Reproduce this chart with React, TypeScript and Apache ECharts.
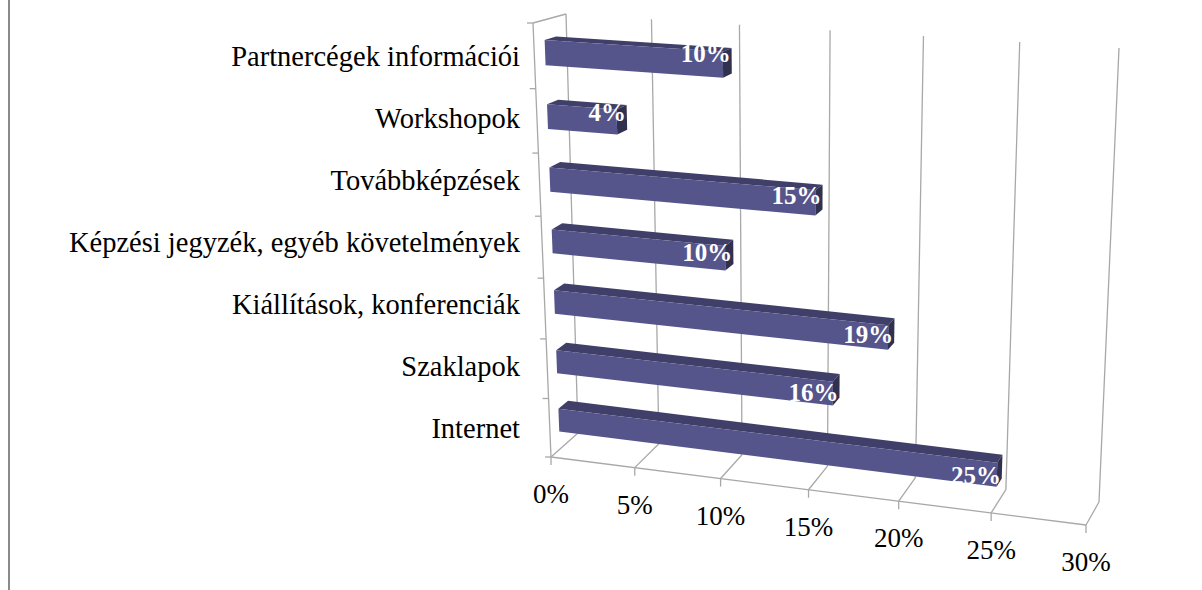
import React, { useEffect, useRef } from "react";
import * as echarts from "echarts";

// ---- data ----
const categories = [
  "Internet",
  "Szaklapok",
  "Kiállítások, konferenciák",
  "Képzési jegyzék, egyéb követelmények",
  "Továbbképzések",
  "Workshopok",
  "Partnercégek információi",
];
const values = [25, 16, 19, 10, 15, 4, 10];
const valueTicks = [0, 5, 10, 15, 20, 25, 30];
const valueTickLabels = ["0%", "5%", "10%", "15%", "20%", "25%", "30%"];
const valueMax = 30;

// ---- 3D look (layout only): corners of the front and back planes ----
type Pt = [number, number];
const FRONT: Pt[] = [[551, 457], [1086, 525], [1107, 60], [533, 23]];
const BACK: Pt[] = [[578, 433], [1099, 502], [1119, 48], [566, 14]];
const BAR_HALF = 0.195;
const Z_FRONT = 0.33;
const Z_BACK = 0.68;
const LABEL_LIFT = 2.1; // px per category row (label placement)
const GRID = "#a8a8a8";
const SERIF = "'Liberation Serif', 'DejaVu Serif', serif";

function makeH(q: Pt[]) {
  const [x0, y0] = q[0], [x1, y1] = q[1], [x2, y2] = q[2], [x3, y3] = q[3];
  const dx1 = x1 - x2, dx2 = x3 - x2, dx3 = x0 - x1 + x2 - x3;
  const dy1 = y1 - y2, dy2 = y3 - y2, dy3 = y0 - y1 + y2 - y3;
  const den = dx1 * dy2 - dx2 * dy1;
  const g = (dx3 * dy2 - dx2 * dy3) / den;
  const h = (dx1 * dy3 - dx3 * dy1) / den;
  const a = x1 - x0 + g * x1, b = x3 - x0 + h * x3, c = x0;
  const d = y1 - y0 + g * y1, e = y3 - y0 + h * y3, f = y0;
  return (u: number, v: number): Pt => {
    const w = g * u + h * v + 1;
    return [(a * u + b * v + c) / w, (d * u + e * v + f) / w];
  };
}
const HF = makeH(FRONT);
const HB = makeH(BACK);
function proj(u: number, v: number, z: number): Pt {
  const p = HF(u, v);
  const q = HB(u, v);
  return [p[0] + (q[0] - p[0]) * z, p[1] + (q[1] - p[1]) * z];
}

function line(a: Pt, b: Pt, color = GRID, w = 1.3) {
  return {
    type: "line",
    shape: { x1: a[0], y1: a[1], x2: b[0], y2: b[1] },
    style: { stroke: color, lineWidth: w },
  };
}

export default function App() {
  const ref = useRef<HTMLDivElement>(null);

  useEffect(() => {
    if (!ref.current) return;
    const chart = echarts.init(ref.current, undefined, { renderer: "svg" });

    const frameRender = (params: any, api: any) => {
      const cs = params.coordSys;
      const toU = (px: number) => (px - cs.x) / cs.width;
      const toV = (py: number) => (cs.y + cs.height - py) / cs.height;
      const t = api.value(0);
      const u = toU(api.coord([t, 0])[0]);
      const children: any[] = [];
      children.push(line(proj(u, 0, 1), proj(u, 1, 1)));
      children.push(line(proj(u, 0, 0), proj(u, 0, 1)));
      const f = proj(u, 0, 0);
      children.push(line(f, [f[0], f[1] + 8]));
      children.push({
        type: "text",
        x: f[0],
        y: f[1] + 37,
        style: {
          text: valueTickLabels[params.dataIndex],
          fill: "#000",
          fontFamily: SERIF,
          fontSize: 27,
          align: "center",
          verticalAlign: "middle",
          textAlign: "center",
          textVerticalAlign: "middle",
        },
      });
      if (params.dataIndex === 0) {
        const uMax = toU(api.coord([valueMax, 0])[0]);
        children.push(line(proj(0, 0, 0), proj(0, 1, 0)));
        children.push(line(proj(0, 1, 0), proj(0, 1, 1)));
        children.push(line(proj(0, 0, 0), proj(uMax, 0, 0)));
        const band = api.size([0, 1])[1];
        const y0 = api.coord([0, 0])[1] + band / 2;
        for (let k = 0; k <= categories.length; k++) {
          const p = proj(0, toV(y0 - k * band), 0);
          children.push(line([p[0] - 6, p[1]], p));
        }
      }
      return { type: "group", children };
    };

    const barRender = (params: any, api: any) => {
      const cs = params.coordSys;
      const toU = (px: number) => (px - cs.x) / cs.width;
      const toV = (py: number) => (cs.y + cs.height - py) / cs.height;
      const val = api.value(0);
      const ci = api.value(1);
      const pEnd = api.coord([val, ci]);
      const pStart = api.coord([0, ci]);
      const band = api.size([0, 1])[1];
      const u0 = toU(pStart[0]);
      const u1 = toU(pEnd[0]);
      const vt = toV(pEnd[1] - band * BAR_HALF);
      const vb = toV(pEnd[1] + band * BAR_HALF);
      const vc = toV(pEnd[1]);
      const front = [proj(u0, vb, Z_FRONT), proj(u1, vb, Z_FRONT), proj(u1, vt, Z_FRONT), proj(u0, vt, Z_FRONT)];
      const top = [proj(u0, vt, Z_FRONT), proj(u1, vt, Z_FRONT), proj(u1, vt, Z_BACK), proj(u0, vt, Z_BACK)];
      const end = [proj(u1, vb, Z_FRONT), proj(u1, vb, Z_BACK), proj(u1, vt, Z_BACK), proj(u1, vt, Z_FRONT)];
      const endR = proj(u1, vc, Z_BACK);
      const faceC = proj(u1, vc, Z_FRONT);
      return {
        type: "group",
        children: [
          { type: "polygon", shape: { points: top }, style: { fill: "#3f3f69" } },
          { type: "polygon", shape: { points: end }, style: { fill: "#30304f" } },
          { type: "polygon", shape: { points: front }, style: { fill: "#55558b" } },
          {
            type: "text",
            x: endR[0] - 1,
            y: faceC[1] + 1 - LABEL_LIFT * ci,
            style: {
              text: `${val}%`,
              fill: "#ffffff",
              fontFamily: SERIF,
              fontSize: 25,
              fontWeight: "bold",
              align: "right",
              verticalAlign: "middle",
              textAlign: "right",
              textVerticalAlign: "middle",
            },
          },
        ],
      };
    };

    chart.setOption({
      animation: false,
      backgroundColor: "#ffffff",
      grid: { left: 532, right: 100, top: 26, bottom: 131, containLabel: false },
      xAxis: { type: "value", min: 0, max: valueMax, interval: 5, show: false },
      yAxis: {
        type: "category",
        data: categories,
        axisLine: { show: false },
        axisTick: { show: false },
        splitLine: { show: false },
        axisLabel: { color: "#000", fontFamily: SERIF, fontSize: 28.5, margin: 12 },
      },
      series: [
        {
          type: "custom",
          name: "frame",
          silent: true,
          clip: false,
          z: 1,
          renderItem: frameRender,
          encode: { x: 0, y: 1 },
          data: valueTicks.map((t) => [t, 0]),
        },
        {
          type: "custom",
          name: "bars",
          clip: false,
          z: 2,
          renderItem: barRender,
          encode: { x: 0, y: 1 },
          data: values.map((v, i) => [v, i]),
        },
      ],
    });

    return () => chart.dispose();
  }, []);

  return (
    <div style={{ position: "fixed", left: 0, top: 0, width: 1202, height: 590, background: "#fff" }}>
      <div ref={ref} style={{ position: "absolute", left: 0, top: 0, width: 1202, height: 590 }} />
      <div style={{ position: "absolute", left: 8, top: 0, width: 2, height: 590, background: "#8a8a8a" }} />
    </div>
  );
}
